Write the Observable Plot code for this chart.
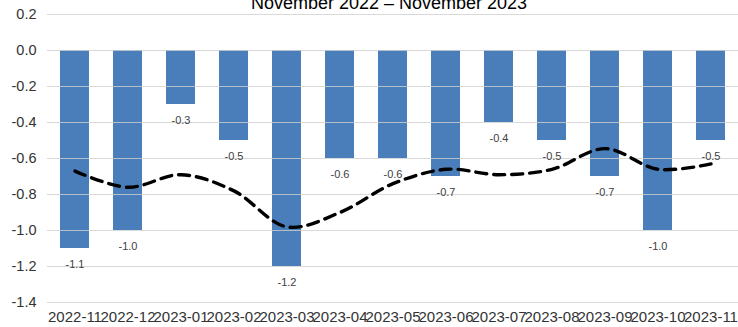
<!DOCTYPE html>
<html>
<head>
<meta charset="utf-8">
<script src="https://cdn.jsdelivr.net/npm/d3@7"></script>
<script src="https://cdn.jsdelivr.net/npm/@observablehq/plot@0.6"></script>
<style>
  html, body { margin: 0; padding: 0; background: #fff; }
  #chart { width: 738px; height: 327px; overflow: hidden; }
</style>
</head>
<body>
<div id="chart"></div>
<script>
const title = "November 2022 – November 2023";
const months = ["2022-11","2022-12","2023-01","2023-02","2023-03","2023-04","2023-05","2023-06","2023-07","2023-08","2023-09","2023-10","2023-11"];
const monthly = [-1.1, -1.0, -0.3, -0.5, -1.2, -0.6, -0.6, -0.7, -0.4, -0.5, -0.7, -1.0, -0.5];
const trend = [-0.67, -0.76, -0.69, -0.78, -0.98, -0.9, -0.74, -0.66, -0.69, -0.66, -0.545, -0.66, -0.63];
const yTicks = [0.2, 0, -0.2, -0.4, -0.6, -0.8, -1.0, -1.2, -1.4];

const data = months.map((m, i) => ({month: m, value: monthly[i], trend: trend[i]}));

const chart = Plot.plot({
  width: 738,
  height: 327,
  marginTop: 14,
  marginBottom: 25,
  marginLeft: 47,
  marginRight: 0,
  style: {fontFamily: "Liberation Sans, Arial, sans-serif", background: "#fff", overflow: "visible"},
  x: {type: "band", domain: months, paddingInner: 0.45, paddingOuter: 0.225},
  y: {domain: [-1.4, 0.2]},
  marks: [
    Plot.barY(data, {x: "month", y: "value", fill: "#4a7ebb"}),
    Plot.ruleY(yTicks, {stroke: "#cfcfcf", strokeOpacity: 0.8, strokeWidth: 1.2}),
    Plot.text(data, {x: "month", y: "value", text: d => d.value.toFixed(1), dy: 16, fill: "#404040", fontSize: 11}),
    Plot.line(data, {x: "month", y: "trend", stroke: "#000", strokeWidth: 3.4, strokeDasharray: "11,7", curve: "catmull-rom"}),
    Plot.axisY({ticks: yTicks, tickSize: 0, tickPadding: 11, fontSize: 14.5, fill: "#333", tickFormat: d => d.toFixed(1), label: null}),
    Plot.axisX({tickSize: 0, tickPadding: 9, fontSize: 15, fill: "#333", label: null}),
    Plot.text([title], {frameAnchor: "top", dx: -4, dy: -11, fontSize: 18, fill: "#000", lineAnchor: "middle"})
  ]
});
document.getElementById("chart").appendChild(chart);
</script>
</body>
</html>
